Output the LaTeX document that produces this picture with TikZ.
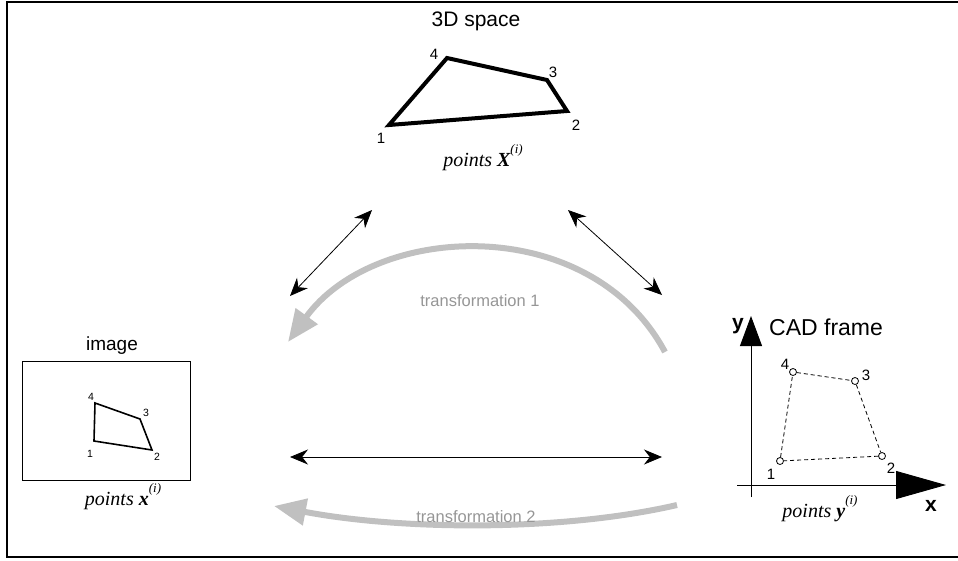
\documentclass[tikz,border=0pt]{standalone}
\usepackage{fontspec}
\setmainfont{Liberation Sans}
\newfontfamily\serifit{Liberation Serif}
\usetikzlibrary{arrows.meta}
\definecolor{arcgray}{RGB}{192,192,192}
\definecolor{txtgray}{RGB}{150,150,150}
\newcommand{\supi}{\raisebox{0.65em}{\fontsize{13}{14}\selectfont(\textit{i})}}
\begin{document}
\begin{tikzpicture}[x=1pt,y=-1pt,
  title/.style={font=\fontsize{21}{24}\selectfont, inner sep=0pt},
  numlbl/.style={font=\fontsize{15}{16}\selectfont, inner sep=0pt},
  smalllbl/.style={font=\fontsize{10.5}{11}\selectfont, inner sep=0pt},
  ptslbl/.style={font=\fontsize{20}{22}\selectfont\serifit\itshape, inner sep=0pt},
  translbl/.style={font=\fontsize{16.5}{18}\selectfont, text=txtgray, inner sep=0pt},
  dbl/.style={line width=0.8pt, {Stealth[length=18pt,width=15pt]}-{Stealth[length=18pt,width=15pt]}},
  bigarc/.style={draw=arcgray, line width=6pt, -{Triangle[length=32pt,width=26pt]}},
  cadpt/.style={circle, draw, fill=white, inner sep=0pt, minimum size=7pt, line width=0.8pt},
  axis/.style={line width=0.9pt}
]
\useasboundingbox (0,0) rectangle (958,560);
\draw[line width=2.5pt] (965,2) -- (7,2) -- (7,557) -- (965,557);

% 3D space
\node[title] (t3d) at (476,21) {3D space};
\coordinate (A1) at (389,125);
\coordinate (A4) at (447,58);
\coordinate (A3) at (547,80);
\coordinate (A2) at (567,111);
\draw[line width=4pt, line join=miter] (A1) -- (A4) -- (A3) -- (A2) -- cycle;
\node[numlbl] (l1) at (381,138) {1};
\node[numlbl] (l4) at (434,54) {4};
\node[numlbl] (l3) at (553,72) {3};
\node[numlbl] (l2) at (576,125) {2};
\node[ptslbl] (pX) at (483,158) {points \textbf{\textit{X}}\supi};

% double arrows
\coordinate (dL1) at (290,296);
\coordinate (dL2) at (372,210);
\coordinate (dR1) at (568,210);
\coordinate (dR2) at (662,295);
\draw[dbl] (dL1) -- (dL2);
\draw[dbl] (dR1) -- (dR2);
\coordinate (hL) at (290,457);
\coordinate (hR) at (662,457);
\draw[dbl] (hL) -- (hR);

% transformation 1
\coordinate (t1s) at (665,352);
\coordinate (t1e) at (288,342);
\draw[bigarc] (t1s) .. controls (590,212) and (375,222) .. (t1e);
\node[translbl] (tr1) at (480,301) {transformation 1};

% transformation 2
\coordinate (t2s) at (677,505);
\coordinate (t2e) at (274,506);
\draw[bigarc] (t2s) .. controls (560,532) and (400,530) .. (t2e);
\node[translbl] (tr2) at (476,517) {transformation 2};

% image
\node[title, font=\fontsize{19}{22}\selectfont] (timg) at (112,346) {image};
\node[draw, line width=0.8pt, minimum width=168pt, minimum height=119pt, inner sep=0pt] (imgbox) at (106,420.5) {};
\coordinate (B4) at (95,403);
\coordinate (B3) at (140,419);
\coordinate (B2) at (152,450);
\coordinate (B1) at (94,441);
\draw[line width=1.6pt] (B1) -- (B4) -- (B3) -- (B2) -- cycle;
\node[smalllbl] (m4) at (91,397) {4};
\node[smalllbl] (m3) at (146,413) {3};
\node[smalllbl] (m1) at (90,454) {1};
\node[smalllbl] (m2) at (157,457) {2};
\node[ptslbl] (px) at (123,497) {points \textbf{\textit{x}}\supi};

% CAD frame
\coordinate (yb) at (751,497);
\coordinate (yt) at (751,316);
\coordinate (xl) at (737,485);
\coordinate (xr) at (946,485);
\draw[axis, -{Triangle[length=30pt,width=22pt]}] (yb) -- (yt);
\draw[axis, -{Triangle[length=50pt,width=28pt]}] (xl) -- (xr);
\node[title, font=\fontsize{21}{24}\selectfont\bfseries] (ylab) at (738,326) {y};
\node[title, font=\fontsize{21}{24}\selectfont\bfseries] (xlab) at (931,506) {x};
\node[title, font=\fontsize{23}{26}\selectfont, anchor=west] (tcad) at (769,327) {CAD frame};
\node[cadpt] (C4) at (793,372) {};
\node[cadpt] (C3) at (855,381) {};
\node[cadpt] (C2) at (882,456) {};
\node[cadpt] (C1) at (780,461) {};
\draw[dashed, line width=0.8pt, dash pattern=on 4pt off 3pt] (C1) -- (C4) -- (C3) -- (C2) -- (C1);
\node[numlbl] (c4) at (785,364) {4};
\node[numlbl] (c3) at (866,375) {3};
\node[numlbl] (c2) at (891,468) {2};
\node[numlbl] (c1) at (771,474) {1};
\node[ptslbl] (py) at (820,509) {points \textbf{\textit{y}}\supi};
\end{tikzpicture}
\end{document}
